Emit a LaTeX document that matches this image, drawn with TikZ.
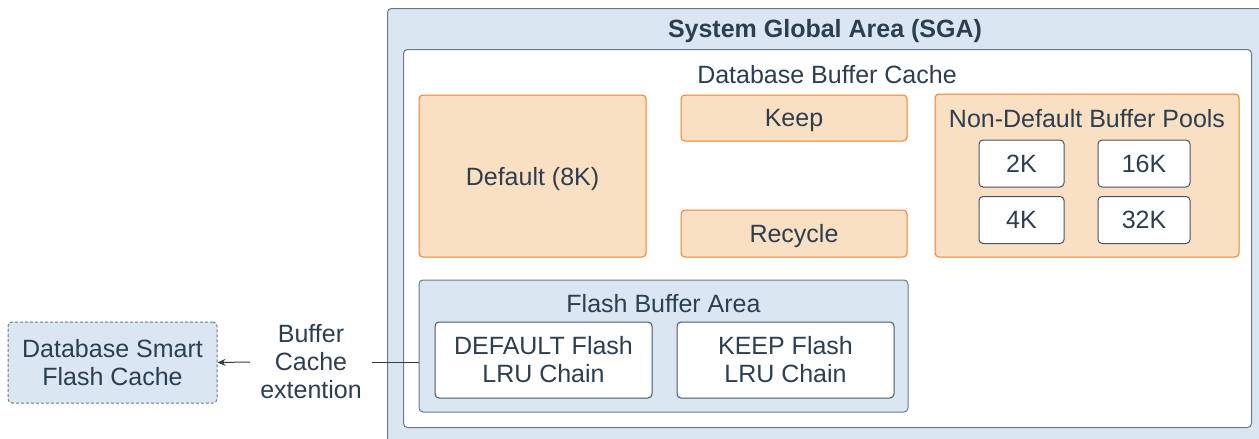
\documentclass[tikz,border=0pt]{standalone}
\usepackage{fontspec}
\setmainfont{Liberation Sans}
\usetikzlibrary{arrows.meta}
\definecolor{bluefill}{HTML}{DAE7F3}
\definecolor{greyline}{HTML}{6B7A8A}
\definecolor{darkline}{HTML}{44546A}
\definecolor{txt}{HTML}{2C3E50}
\definecolor{orfill}{HTML}{FAE0C3}
\definecolor{orline}{HTML}{F37F29}
\tikzset{
  base/.style={rounded corners=4pt, text=txt, font=\fontsize{25}{28}\selectfont, align=center, inner sep=0pt, line width=1pt},
  orbox/.style={base, draw=orline, fill=orfill},
  whitebox/.style={base, draw=darkline, fill=white},
  bluebox/.style={base, draw=greyline, fill=bluefill},
  dashbox/.style={base, draw=greyline, fill=bluefill, dash pattern=on 3pt off 2pt},
  lbl/.style={text=txt, font=\fontsize{25}{28}\selectfont, align=center, inner sep=0pt},
  conn/.style={draw=txt, line width=1pt}
}
\begin{document}
\begin{tikzpicture}[x=1pt,y=-1pt]
\useasboundingbox (0,0) rectangle (1259,439);
\clip (0,0) rectangle (1259,439);
% SGA outer
\node[bluebox, minimum width=900pt, minimum height=460pt, anchor=north west] (sga) at (387,8) {};
\node[lbl, font=\bfseries\fontsize{25}{28}\selectfont] (sgat) at (825,31) {System Global Area (SGA)};
% inner white
\node[whitebox, draw=greyline, minimum width=848pt, minimum height=378pt, anchor=north west] (dbc) at (403,49) {};
\node[lbl] (dbct) at (827,75) {Database Buffer Cache};
% orange boxes
\node[orbox, minimum width=227pt, minimum height=162pt, text depth=0pt] (def) at (532.5,176) {Default (8K)};
\node[orbox, minimum width=226pt, minimum height=46pt, text depth=0pt] (keep) at (794,118) {Keep};
\node[orbox, minimum width=226pt, minimum height=47pt, text depth=0pt] (rec) at (794,233.5) {Recycle};
\node[orbox, minimum width=304pt, minimum height=163pt] (ndb) at (1087,175.5) {};
\node[lbl] (ndbt) at (1087,119) {Non-Default Buffer Pools};
\node[whitebox, minimum width=85pt, minimum height=47pt, text depth=0pt] (k2) at (1021.5,163.5) {2K};
\node[whitebox, minimum width=92pt, minimum height=47pt, text depth=0pt] (k16) at (1144,163.5) {16K};
\node[whitebox, minimum width=85pt, minimum height=47pt, text depth=0pt] (k4) at (1021.5,220) {4K};
\node[whitebox, minimum width=92pt, minimum height=47pt, text depth=0pt] (k32) at (1144,220) {32K};
% flash buffer area
\node[bluebox, minimum width=489pt, minimum height=132pt] (fba) at (663.5,346) {};
\node[lbl] (fbat) at (663.5,304) {Flash Buffer Area};
\node[whitebox, minimum width=217pt, minimum height=76pt] (dfl) at (543.5,360) {DEFAULT Flash\\LRU Chain};
\node[whitebox, minimum width=217pt, minimum height=76pt] (kfl) at (785.5,360) {KEEP Flash\\LRU Chain};
% left
\node[dashbox, minimum width=209pt, minimum height=81pt] (dsfc) at (112.5,362.5) {Database Smart\\Flash Cache};
\node[lbl, inner xsep=10pt] (ext) at (311,362) {Buffer\\Cache\\extention};
\draw[conn] (fba.west |- ext.east) -- (ext.east);
\draw[conn, -{Stealth[length=8pt,width=7pt]}] (ext.west) -- (dsfc.east);
\end{tikzpicture}
\end{document}
